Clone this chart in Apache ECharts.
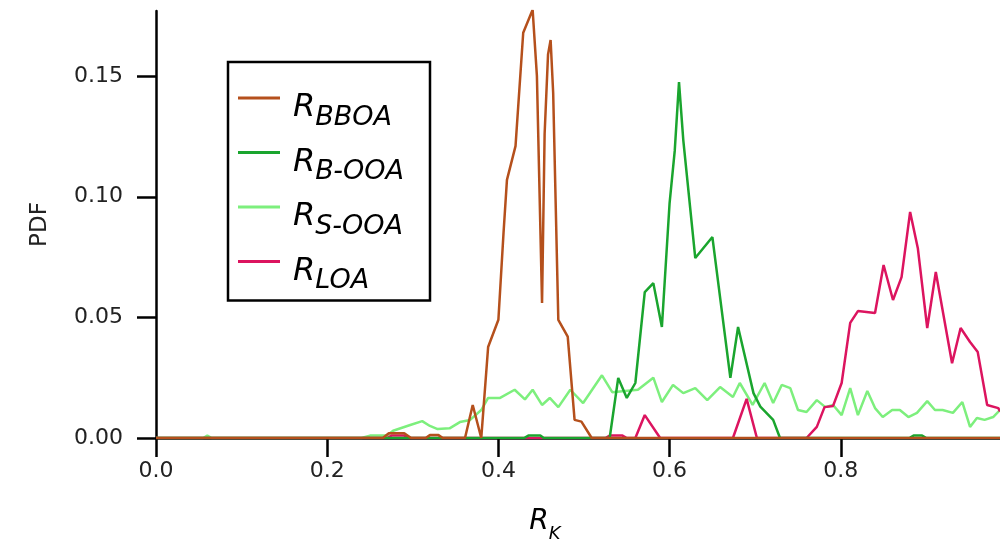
<!DOCTYPE html>
<html>
<head>
<meta charset="utf-8">
<script src="https://cdn.jsdelivr.net/npm/echarts@6/dist/echarts.min.js"></script>
<style>
  html, body { margin: 0; padding: 0; background: #fff; }
  #chart { width: 1000px; height: 552px; }
</style>
</head>
<body>
<div id="chart"></div>
<script>
// tick positions
const xTicks = [0, 0.2, 0.4, 0.6, 0.8];
const yTicks = [0, 0.05, 0.1, 0.15];

// [R_K, PDF] pairs
const bboa = [
  [0, 0], [0.265, 0], [0.272, 0.002], [0.29, 0.002], [0.298, 0], [0.315, 0], [0.32, 0.0012],
  [0.33, 0.0012], [0.335, 0], [0.361, 0], [0.370, 0.0137], [0.380, 0], [0.388, 0.0377],
  [0.400, 0.049], [0.406, 0.085], [0.410, 0.107], [0.420, 0.121], [0.429, 0.168],
  [0.440, 0.1775], [0.445, 0.150], [0.451, 0.056], [0.454, 0.126], [0.458, 0.159],
  [0.461, 0.165], [0.464, 0.143], [0.470, 0.049], [0.481, 0.042], [0.489, 0.0075],
  [0.497, 0.0068], [0.509, 0], [0.986, 0]
];
const booa = [
  [0, 0], [0.43, 0], [0.435, 0.001], [0.449, 0.001], [0.453, 0], [0.530, 0], [0.540, 0.0249],
  [0.550, 0.0166], [0.560, 0.0228], [0.571, 0.0605], [0.581, 0.0642], [0.591, 0.046],
  [0.600, 0.0974], [0.606, 0.119], [0.611, 0.1475], [0.616, 0.1235], [0.630, 0.0746],
  [0.650, 0.0833], [0.671, 0.0249], [0.680, 0.046], [0.698, 0.0186], [0.706, 0.013],
  [0.721, 0.0075], [0.729, 0], [0.88, 0], [0.885, 0.001], [0.895, 0.001], [0.90, 0], [0.986, 0]
];
const sooa = [
  [0, 0], [0.055, 0], [0.06, 0.001], [0.065, 0], [0.24, 0], [0.25, 0.001], [0.27, 0.001],
  [0.277, 0.003], [0.297, 0.0054], [0.311, 0.007], [0.32, 0.005], [0.329, 0.0037],
  [0.343, 0.004], [0.355, 0.0066], [0.367, 0.0075], [0.380, 0.0116], [0.388, 0.0166],
  [0.402, 0.0166], [0.419, 0.020], [0.431, 0.016], [0.440, 0.020], [0.451, 0.0137],
  [0.460, 0.0166], [0.470, 0.0128], [0.484, 0.020], [0.499, 0.0145], [0.521, 0.026],
  [0.533, 0.019], [0.563, 0.020], [0.581, 0.025], [0.591, 0.0149], [0.604, 0.022],
  [0.616, 0.0186], [0.630, 0.0207], [0.644, 0.0157], [0.659, 0.0211], [0.674, 0.017],
  [0.682, 0.0228], [0.697, 0.0137], [0.711, 0.0228], [0.721, 0.0145], [0.731, 0.022],
  [0.741, 0.0207], [0.750, 0.0116], [0.760, 0.0108], [0.772, 0.0157], [0.782, 0.0128],
  [0.791, 0.0137], [0.801, 0.0095], [0.811, 0.0207], [0.820, 0.0095], [0.831, 0.0195],
  [0.840, 0.0124], [0.849, 0.0087], [0.860, 0.0116], [0.869, 0.0116], [0.879, 0.0087],
  [0.889, 0.0104], [0.901, 0.0153], [0.910, 0.0116], [0.919, 0.0116], [0.931, 0.0104],
  [0.942, 0.0149], [0.951, 0.0046], [0.959, 0.0083], [0.968, 0.0075], [0.978, 0.0087],
  [0.986, 0.0116]
];
const loa = [
  [0, 0], [0.27, 0], [0.275, 0.001], [0.29, 0.001], [0.295, 0], [0.525, 0], [0.53, 0.001],
  [0.545, 0.001], [0.55, 0], [0.560, 0], [0.571, 0.0095], [0.589, 0], [0.674, 0],
  [0.690, 0.0162], [0.702, 0], [0.760, 0], [0.772, 0.0046], [0.781, 0.0128], [0.791, 0.0133],
  [0.801, 0.0228], [0.811, 0.0477], [0.820, 0.0526], [0.840, 0.0518], [0.850, 0.0717],
  [0.861, 0.0572], [0.871, 0.0667], [0.881, 0.0937], [0.890, 0.0787], [0.901, 0.0456],
  [0.911, 0.0688], [0.930, 0.031], [0.940, 0.0456], [0.951, 0.0398], [0.960, 0.0356],
  [0.971, 0.0137], [0.984, 0.0124], [0.986, 0.011]
];

const font = 'DejaVu Sans';
const chart = echarts.init(document.getElementById('chart'));

const legendRich = {
  r: { fontFamily: font, fontStyle: 'italic', fontSize: 32, lineHeight: 36, color: '#000', verticalAlign: 'top', padding: [12, 0, 0, 8] },
  s: { fontFamily: font, fontStyle: 'italic', fontSize: 27, lineHeight: 27, color: '#000', verticalAlign: 'top', padding: [24, 0, 0, 0] }
};
const subs = { BBOA: 'BBOA', BOOA: 'B-OOA', SOOA: 'S-OOA', LOA: 'LOA' };

function line(name, color, data) {
  return {
    name: name, type: 'line', data: data, symbol: 'none',
    lineStyle: { color: color, width: 2.5 }, itemStyle: { color: color },
    animation: false
  };
}

chart.setOption({
  backgroundColor: '#fff',
  animation: false,
  grid: { left: 156, right: 0, top: 11, bottom: 114 },
  legend: {
    data: ['BBOA', 'BOOA', 'SOOA', 'LOA'],
    orient: 'vertical',
    left: 228, top: 62,
    padding: [18, 26, 6, 10],
    itemGap: 3.5,
    itemWidth: 42, itemHeight: 3,
    icon: 'rect',
    borderColor: '#000', borderWidth: 2.5,
    selectedMode: false,
    formatter: function (n) { return '{r|R}{s|' + subs[n] + '}'; },
    textStyle: { rich: legendRich }
  },
  xAxis: {
    type: 'value', min: 0, max: 0.986,
    name: '{r|R}{s|K}', nameLocation: 'middle', nameGap: 70,
    nameTextStyle: {
      padding: [0, 66, 0, 0],
      rich: {
        r: { fontFamily: font, fontStyle: 'italic', fontSize: 28, color: '#000', verticalAlign: 'top', lineHeight: 32 },
        s: { fontFamily: font, fontStyle: 'italic', fontSize: 18, color: '#000', verticalAlign: 'top', lineHeight: 18, padding: [17, 0, 0, 0] }
      }
    },
    axisLine: { lineStyle: { color: '#000', width: 2.5 } },
    axisTick: { length: 19, lineStyle: { color: '#000', width: 2.5 }, customValues: xTicks },
    axisLabel: {
      margin: 22, fontFamily: font, fontSize: 22, color: '#222', customValues: xTicks,
      formatter: function (v) { return v.toFixed(1); }
    },
    splitLine: { show: false }
  },
  yAxis: {
    type: 'value', min: 0, max: 0.177, offset: 4,
    name: 'PDF', nameLocation: 'middle', nameGap: 100,
    nameTextStyle: { fontFamily: font, fontSize: 23, color: '#222' },
    axisLine: { show: true, lineStyle: { color: '#000', width: 2.5 } },
    axisTick: { show: true, length: 19, lineStyle: { color: '#000', width: 2.5 }, customValues: yTicks },
    axisLabel: {
      margin: 29, fontFamily: font, fontSize: 22, color: '#222', customValues: yTicks,
      formatter: function (v) { return v.toFixed(2); }
    },
    splitLine: { show: false }
  },
  series: [
    line('SOOA', '#7def7d', sooa),
    line('LOA', '#dc145f', loa),
    line('BOOA', '#1aa52e', booa),
    line('BBOA', '#b5501c', bboa)
  ]
});
</script>
</body>
</html>
